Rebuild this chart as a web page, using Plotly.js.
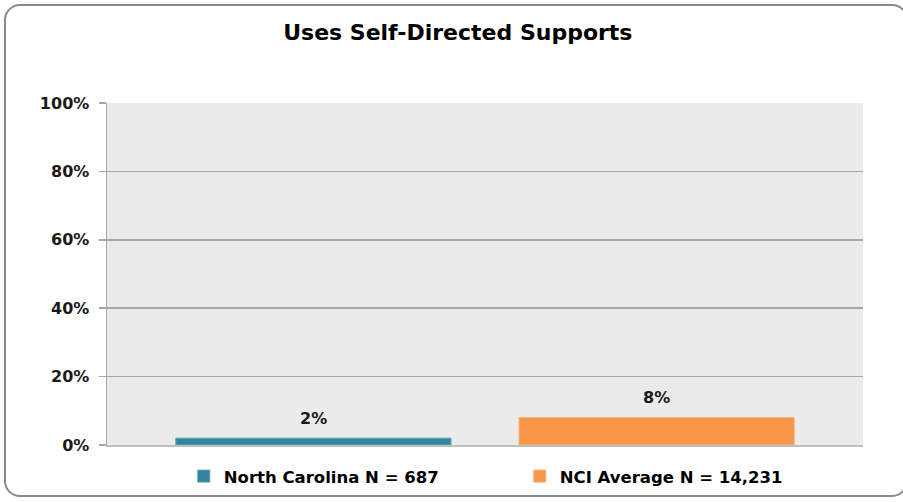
<!DOCTYPE html>
<html>
<head>
<meta charset="utf-8">
<script src="https://cdn.plot.ly/plotly-3.0.1.min.js"></script>
<style>
  html, body { margin: 0; padding: 0; background: #ffffff; }
  #wrap { position: relative; width: 903px; height: 502px; overflow: hidden; }
  #chart { position: absolute; left: 0; top: 0; width: 903px; height: 502px; }
  #frame { position: absolute; left: 4px; top: 4px; width: 904px; height: 493px;
           border: 2px solid #8a8a8a; border-radius: 16px; pointer-events: none; box-sizing: border-box; }
</style>
</head>
<body>
<div id="wrap">
  <div id="chart"></div>
  <div id="frame"></div>
</div>
<script>
const chartTitle = "Uses Self-Directed Supports";
const seriesNames = ["North Carolina N = 687", "NCI Average N = 14,231"];
const seriesValues = [2, 8];
const valueLabels = ["2%", "8%"];
const seriesColors = ["#31859C", "#F79646"];
const yTickVals = [0, 20, 40, 60, 80, 100];
const yTickText = ["0%", "20%", "40%", "60%", "80%", "100%"];

const barWidth = 0.364;
const barOffsets = [-0.409, 0.045];

const labelFont = { family: "DejaVu Sans, Verdana, sans-serif", size: 16, color: "#1a1a1a", weight: "bold" };
const tickFont = { family: "DejaVu Sans, Verdana, sans-serif", size: 16, color: "#1a1a1a", weight: "bold" };
const narrowFont = "DejaVu Sans, sans-serif";

const traces = seriesNames.map((name, i) => ({
  type: "bar",
  name: name,
  x: [0],
  y: [seriesValues[i]],
  width: [barWidth],
  offset: [barOffsets[i]],
  marker: { color: seriesColors[i], line: { color: i === 0 ? "#5aa3b8" : "#f9b07a", width: 1 } },
  hoverinfo: "skip"
}));

const annotations = seriesNames.map((name, i) => ({
  x: barOffsets[i] + barWidth / 2,
  y: seriesValues[i],
  xref: "x", yref: "y",
  text: "<b>" + valueLabels[i] + "</b>",
  showarrow: false,
  yanchor: "middle",
  yshift: 20,
  font: labelFont
}));

const layout = {
  width: 903, height: 502,
  margin: { l: 107, r: 40, t: 103, b: 57 },
  paper_bgcolor: "rgba(0,0,0,0)",
  plot_bgcolor: "#EBEBEB",
  title: {
    text: "<b>" + chartTitle + "</b>",
    x: 0.507, xanchor: "center", xref: "container",
    y: 0.935, yanchor: "middle", yref: "container",
    font: { family: narrowFont, size: 22, color: "#000000" },
    automargin: false
  },
  barmode: "group",
  showlegend: true,
  legend: {
    orientation: "h",
    x: 0.546, xanchor: "center", xref: "paper",
    y: 0.051, yanchor: "middle", yref: "container",
    font: { family: narrowFont, size: 16.5, color: "#000000", weight: "bold" },
    entrywidth: 291, entrywidthmode: "pixels",
    traceorder: "normal",
    itemclick: false, itemdoubleclick: false
  },
  xaxis: {
    range: [-0.5, 0.5],
    showticklabels: false,
    showgrid: false,
    zeroline: false,
    showline: true,
    linecolor: "#bfbfbf",
    linewidth: 2,
    fixedrange: true
  },
  yaxis: {
    range: [0, 100],
    tickvals: yTickVals,
    ticktext: yTickText,
    ticks: "outside",
    ticklen: 7,
    tickcolor: "#a6a6a6",
    tickwidth: 1.5,
    ticklabelstandoff: 6,
    showgrid: true,
    gridcolor: "#a6a6a6",
    gridwidth: 1.5,
    zeroline: false,
    showline: true,
    linecolor: "#a6a6a6",
    linewidth: 1.5,
    tickfont: tickFont,
    fixedrange: true
  },
  annotations: annotations
};

Plotly.newPlot("chart", traces, layout, { displayModeBar: false, staticPlot: true });
</script>
</body>
</html>
